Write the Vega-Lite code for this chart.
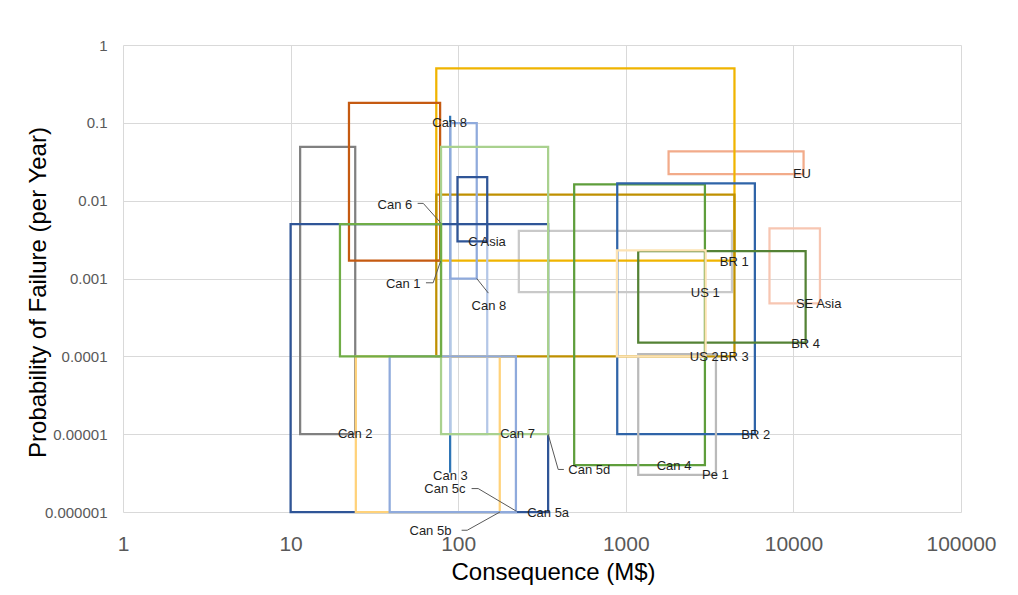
{
  "$schema": "https://vega.github.io/schema/vega-lite/v6.json",
  "autosize": {"type": "none"},
  "padding": {"left": 123, "top": 45, "right": 57, "bottom": 83},
  "width": 838,
  "height": 467,
  "background": "white",
  "config": {
    "view": {"stroke": null},
    "font": "Liberation Sans"
  },
  "datasets": {
    "shapes": [
      {"series": "EU", "x": 1800, "x_end": 11500, "y": 0.022, "y_end": 0.043},
      {"series": "SE Asia", "x": 7200, "x_end": 14400, "y": 0.00048, "y_end": 0.0044},
      {"series": "US 1", "x": 230, "x_end": 4300, "y": 0.00067, "y_end": 0.0041},
      {"series": "BR 1", "x": 74, "x_end": 4450, "y": 0.0017, "y_end": 0.5},
      {"series": "BR 3", "x": 74, "x_end": 4450, "y": 0.0001, "y_end": 0.012},
      {"series": "Can 2", "x": 11.4, "x_end": 24.3, "y": 0.00001, "y_end": 0.049},
      {"series": "Can 1", "x": 22.3, "x_end": 78, "y": 0.0017, "y_end": 0.18},
      {"series": "Can 3", "x": 89.5, "x_end": 89.5, "y": 0.0000032, "y_end": 0.123},
      {"series": "Can 7", "x": 89.5, "x_end": 149, "y": 0.00001, "y_end": 0.005},
      {"series": "Can 8", "x": 89.5, "x_end": 129, "y": 0.001, "y_end": 0.099},
      {"series": "Can 5a", "x": 10, "x_end": 344, "y": 0.000001, "y_end": 0.005},
      {"series": "C Asia", "x": 99, "x_end": 149, "y": 0.003, "y_end": 0.02},
      {"series": "Can 5b", "x": 24.5, "x_end": 177, "y": 0.000001, "y_end": 0.0001},
      {"series": "Can 5c", "x": 39, "x_end": 221, "y": 0.000001, "y_end": 0.0001},
      {"series": "Can 5d", "x": 79, "x_end": 344, "y": 0.00001, "y_end": 0.049},
      {"series": "Can 6", "x": 19.7, "x_end": 79, "y": 0.0001, "y_end": 0.005},
      {"series": "Can 4", "x": 492, "x_end": 2965, "y": 0.000004, "y_end": 0.0162},
      {"series": "BR 2", "x": 889, "x_end": 5890, "y": 0.00001, "y_end": 0.0167},
      {"series": "BR 4", "x": 1186, "x_end": 11830, "y": 0.00015, "y_end": 0.00225},
      {"series": "Pe 1", "x": 1186, "x_end": 3450, "y": 0.000003, "y_end": 0.000107},
      {"series": "US 2", "x": 885, "x_end": 2993, "y": 0.0001, "y_end": 0.0023}
    ],
    "leaders": [
      {"id": "Can 6", "seq": 1, "x": 57.3, "y": 0.00923},
      {"id": "Can 6", "seq": 2, "x": 61.9, "y": 0.00923},
      {"id": "Can 6", "seq": 3, "x": 78.5, "y": 0.0052},
      {"id": "Can 1", "seq": 1, "x": 64.2, "y": 0.000881},
      {"id": "Can 1", "seq": 2, "x": 70.9, "y": 0.000881},
      {"id": "Can 1", "seq": 3, "x": 78.5, "y": 0.00167},
      {"id": "Can 8", "seq": 1, "x": 129, "y": 0.001},
      {"id": "Can 8", "seq": 2, "x": 151.4, "y": 0.000649},
      {"id": "Can 5d", "seq": 1, "x": 344, "y": 0.00001},
      {"id": "Can 5d", "seq": 2, "x": 395, "y": 0.00000352},
      {"id": "Can 5d", "seq": 3, "x": 427, "y": 0.00000352},
      {"id": "Can 5c", "seq": 1, "x": 120.2, "y": 0.000002},
      {"id": "Can 5c", "seq": 2, "x": 131.6, "y": 0.000002},
      {"id": "Can 5c", "seq": 3, "x": 223, "y": 0.00000102},
      {"id": "Can 5b", "seq": 1, "x": 104.8, "y": 0.000000583},
      {"id": "Can 5b", "seq": 2, "x": 113.2, "y": 0.000000583},
      {"id": "Can 5b", "seq": 3, "x": 177.4, "y": 0.000001}
    ],
    "labels": [
      {"label": "Can 8", "x": 88.9, "y": 0.0986},
      {"label": "Can 8", "x": 152.5, "y": 0.000446},
      {"label": "Can 6", "x": 41.9, "y": 0.00878},
      {"label": "Can 1", "x": 47, "y": 0.000847},
      {"label": "C Asia", "x": 148.6, "y": 0.00291},
      {"label": "Can 2", "x": 24.3, "y": 0.00001},
      {"label": "Can 7", "x": 226, "y": 0.00001},
      {"label": "Can 5d", "x": 605, "y": 0.00000344},
      {"label": "Can 3", "x": 89.8, "y": 0.00000288},
      {"label": "Can 5c", "x": 83.3, "y": 0.00000195},
      {"label": "Can 5a", "x": 344, "y": 0.000000957},
      {"label": "Can 5b", "x": 68.3, "y": 0.000000566},
      {"label": "BR 1", "x": 4436, "y": 0.00163},
      {"label": "US 1", "x": 2980, "y": 0.000644},
      {"label": "BR 3", "x": 4436, "y": 0.000097},
      {"label": "US 2", "x": 2940, "y": 0.000097},
      {"label": "BR 4", "x": 11830, "y": 0.000145},
      {"label": "SE Asia", "x": 14160, "y": 0.000469},
      {"label": "EU", "x": 11240, "y": 0.0218},
      {"label": "BR 2", "x": 5957, "y": 0.0000097},
      {"label": "Can 4", "x": 1941, "y": 0.00000388},
      {"label": "Pe 1", "x": 3427, "y": 0.00000297}
    ]
  },
  "encoding": {
    "x": {
      "field": "x",
      "type": "quantitative",
      "scale": {"type": "log", "domain": [1, 100000], "nice": false},
      "axis": {
        "values": [1, 10, 100, 1000, 10000, 100000],
        "format": "d",
        "grid": true,
        "gridColor": "#d9d9d9",
        "gridWidth": 1,
        "domain": false,
        "ticks": false,
        "labelFlush": false,
        "labelOverlap": false,
        "labelBound": false,
        "labelFontSize": 21,
        "labelColor": "#595959",
        "labelPadding": 21,
        "title": "Consequence (M$)",
        "titleFontSize": 24,
        "titleFontWeight": "normal",
        "titleColor": "#000000",
        "titleX": 430,
        "titleY": 60,
        "titleBaseline": "middle"
      }
    },
    "y": {
      "field": "y",
      "type": "quantitative",
      "scale": {"type": "log", "domain": [0.000001, 1], "nice": false},
      "axis": {
        "values": [0.000001, 0.00001, 0.0001, 0.001, 0.01, 0.1, 1],
        "format": ".6~f",
        "grid": true,
        "gridColor": "#d9d9d9",
        "gridWidth": 1,
        "domain": false,
        "ticks": false,
        "labelFlush": false,
        "labelOverlap": false,
        "labelBound": false,
        "labelFontSize": 15,
        "labelColor": "#595959",
        "labelPadding": 16,
        "title": "Probability of Failure (per Year)",
        "titleFontSize": 24,
        "titleFontWeight": "normal",
        "titleColor": "#000000",
        "titleX": -85,
        "titleY": 247,
        "titleBaseline": "middle"
      }
    }
  },
  "layer": [
    {
      "data": {"name": "shapes"},
      "mark": {"type": "rect", "fill": "transparent", "strokeWidth": 2.25, "clip": false},
      "encoding": {
        "x2": {"field": "x_end"},
        "y2": {"field": "y_end"},
        "stroke": {
          "field": "series",
          "type": "nominal",
          "legend": null,
          "scale": {
            "domain": ["EU", "SE Asia", "US 1", "BR 1", "BR 3", "Can 2", "Can 1", "Can 3", "Can 7", "Can 8", "Can 5a", "C Asia", "Can 5b", "Can 5c", "Can 5d", "Can 6", "Can 4", "BR 2", "BR 4", "Pe 1", "US 2"],
            "range": ["#f2ab8a", "#f7c6b2", "#c9c9c9", "#f0b400", "#bf9000", "#808080", "#c55a11", "#2e75b6", "#b4c7e7", "#8faadc", "#2f5597", "#2f5597", "#ffd27a", "#8faadc", "#a9d18e", "#70ad47", "#5f9e3c", "#2f64a8", "#548235", "#bababa", "#fde3b3"]
          }
        }
      }
    },
    {
      "data": {"name": "leaders"},
      "mark": {"type": "line", "color": "#595959", "strokeWidth": 1},
      "encoding": {
        "detail": {"field": "id", "type": "nominal"},
        "order": {"field": "seq", "type": "quantitative"}
      }
    },
    {
      "data": {"name": "labels"},
      "mark": {"type": "text", "fontSize": 13, "color": "#1f1f1f", "align": "center", "baseline": "middle"},
      "encoding": {
        "text": {"field": "label", "type": "nominal"}
      }
    }
  ]
}
